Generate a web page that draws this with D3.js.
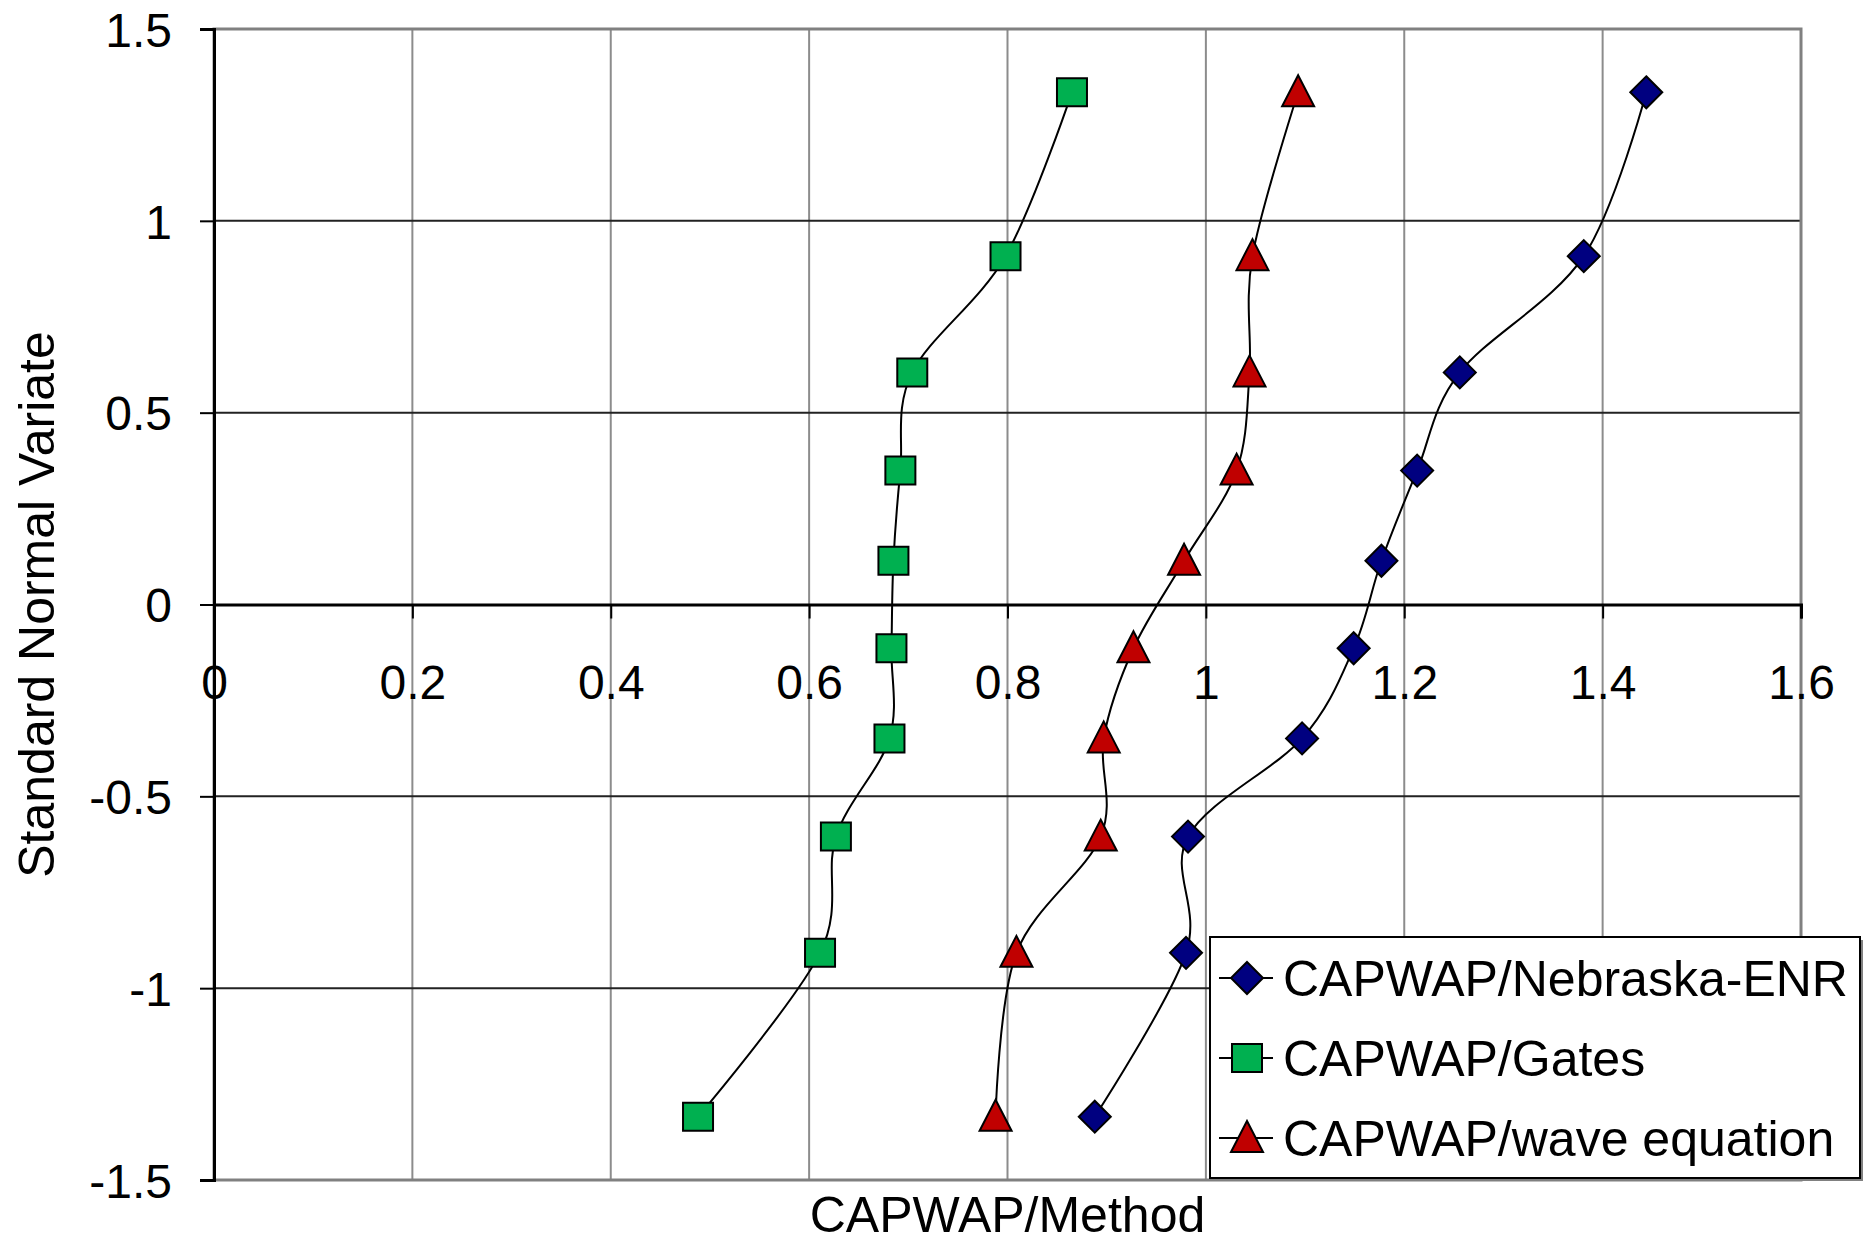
<!DOCTYPE html>
<html>
<head>
<meta charset="utf-8">
<script src="https://cdn.jsdelivr.net/npm/d3@7"></script>
<style>
  html, body { margin: 0; padding: 0; background: #fff; }
  svg { display: block; font-family: "Liberation Sans", Arial, sans-serif; }
</style>
</head>
<body>
<svg id="chart" width="1870" height="1242"></svg>
<script>
// ---- data ----
const normalVariate = [-1.335, -0.908, -0.605, -0.349, -0.114, 0.114, 0.349, 0.605, 0.908, 1.335];
const nebraskaENR   = [0.888, 0.980, 0.982, 1.097, 1.149, 1.177, 1.213, 1.256, 1.381, 1.444];
const gates         = [0.488, 0.611, 0.627, 0.681, 0.683, 0.685, 0.692, 0.704, 0.798, 0.865];
const waveEquation  = [0.788, 0.809, 0.894, 0.897, 0.927, 0.978, 1.031, 1.044, 1.047, 1.093];
const xTicks = [0, 0.2, 0.4, 0.6, 0.8, 1, 1.2, 1.4, 1.6];
const yTicks = [-1.5, -1, -0.5, 0, 0.5, 1, 1.5];
const seriesNames = ["CAPWAP/Nebraska-ENR", "CAPWAP/Gates", "CAPWAP/wave equation"];

const series = [
  { name: seriesNames[0], values: nebraskaENR, shape: "diamond", color: "#000080" },
  { name: seriesNames[1], values: gates, shape: "square", color: "#00B050" },
  { name: seriesNames[2], values: waveEquation, shape: "triangle", color: "#C00000" }
];

// ---- layout ----
const pLeft = 214, pRight = 1801, pTop = 29, pBottom = 1180;
const svg = d3.select("#chart");
const x = d3.scaleLinear().domain([0, 1.6]).range([pLeft, pRight]);
const y = d3.scaleLinear().domain([-1.5, 1.5]).range([pBottom, pTop]);
const fmt = d => String(d);

// vertical gridlines
svg.append("g").selectAll("line").data(xTicks.filter(d => d > 0 && d < 1.6)).join("line")
  .attr("x1", d => x(d)).attr("x2", d => x(d))
  .attr("y1", pTop).attr("y2", pBottom)
  .attr("stroke", "#8c8c8c").attr("stroke-width", 2);

// horizontal gridlines
svg.append("g").selectAll("line").data(yTicks.filter(d => d > -1.5 && d < 1.5 && d !== 0)).join("line")
  .attr("x1", pLeft).attr("x2", pRight)
  .attr("y1", d => y(d)).attr("y2", d => y(d))
  .attr("stroke", "#222").attr("stroke-width", 2);

// plot border
svg.append("rect")
  .attr("x", pLeft).attr("y", pTop)
  .attr("width", pRight - pLeft).attr("height", pBottom - pTop)
  .attr("fill", "none").attr("stroke", "#808080").attr("stroke-width", 3);

// x axis at y=0
const xAxis = d3.axisBottom(x).tickValues(xTicks).tickSize(14).tickFormat(fmt);
const gx = svg.append("g").attr("transform", `translate(0,${y(0)})`).call(xAxis);
gx.select(".domain").attr("stroke", "#000").attr("stroke-width", 3);
gx.selectAll(".tick line").attr("stroke", "#000").attr("stroke-width", 2);
gx.selectAll(".tick text")
  .attr("font-size", 48).attr("fill", "#000")
  .attr("font-family", "Liberation Sans, Arial, sans-serif")
  .attr("y", 0).attr("dy", 0)
  .attr("transform", "translate(0,94)");

// y axis
const yAxis = d3.axisLeft(y).tickValues(yTicks).tickSize(14).tickFormat(fmt);
const gy = svg.append("g").attr("transform", `translate(${pLeft},0)`).call(yAxis);
gy.select(".domain").attr("stroke", "#000").attr("stroke-width", 3);
gy.selectAll(".tick line").attr("stroke", "#000").attr("stroke-width", 2);
gy.selectAll(".tick text")
  .attr("font-size", 48).attr("fill", "#000")
  .attr("font-family", "Liberation Sans, Arial, sans-serif")
  .attr("x", -42).attr("dy", "0.36em");

// smooth lines
const line = d3.line().x(d => x(d.v)).y(d => y(d.z)).curve(d3.curveCardinal.tension(0));
series.forEach(s => {
  const pts = s.values.map((v, i) => ({ v, z: normalVariate[i] }));
  svg.append("path").datum(pts)
    .attr("d", line)
    .attr("fill", "none").attr("stroke", "#000").attr("stroke-width", 2);
});

// marker shapes
function markerPath(shape) {
  if (shape === "diamond") return "M0,-16L16,0L0,16L-16,0Z";
  if (shape === "square") return "M-15,-14L15,-14L15,14L-15,14Z";
  return "M0,-17L16,14L-16,14Z";
}
series.forEach(s => {
  svg.append("g").selectAll("path").data(s.values.map((v, i) => ({ v, z: normalVariate[i] }))).join("path")
    .attr("d", markerPath(s.shape))
    .attr("transform", d => `translate(${x(d.v)},${y(d.z)})`)
    .attr("fill", s.color).attr("stroke", "#000").attr("stroke-width", 2);
});

// legend
const lg = svg.append("g");
const lx = 1210, ly = 937, lw = 650, lh = 241;
lg.append("rect").attr("x", lx + 3).attr("y", ly + 3).attr("width", lw).attr("height", lh).attr("fill", "#808080");
lg.append("rect").attr("x", lx).attr("y", ly).attr("width", lw).attr("height", lh)
  .attr("fill", "#fff").attr("stroke", "#000").attr("stroke-width", 2);
const entryY = [978, 1058, 1138];
series.forEach((s, i) => {
  const cy = entryY[i];
  lg.append("line").attr("x1", lx + 9).attr("x2", lx + 63).attr("y1", cy).attr("y2", cy)
    .attr("stroke", "#000").attr("stroke-width", 2);
  lg.append("path").attr("d", markerPath(s.shape))
    .attr("transform", `translate(${lx + 37},${cy})`)
    .attr("fill", s.color).attr("stroke", "#000").attr("stroke-width", 2);
  lg.append("text").attr("x", lx + 73).attr("y", cy).attr("dy", "0.36em")
    .attr("font-size", 50).attr("fill", "#000").text(s.name);
});

// axis titles
svg.append("text").attr("x", (pLeft + pRight) / 2).attr("y", 1232)
  .attr("text-anchor", "middle").attr("font-size", 50).attr("fill", "#000")
  .text("CAPWAP/Method");
svg.append("text").attr("transform", `translate(54,${(pTop + pBottom) / 2}) rotate(-90)`)
  .attr("text-anchor", "middle").attr("font-size", 50).attr("fill", "#000")
  .text("Standard Normal Variate");
</script>
</body>
</html>
